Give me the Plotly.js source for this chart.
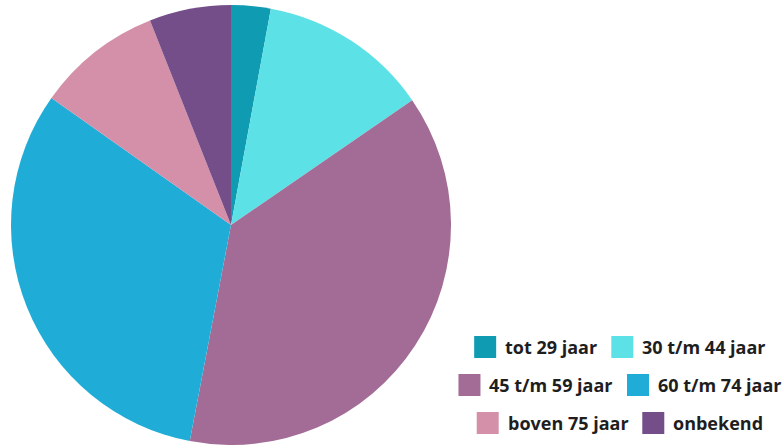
<!DOCTYPE html>
<html>
<head>
<meta charset="utf-8">
<script src="https://cdn.plot.ly/plotly-3.0.1.min.js"></script>
<style>html,body{margin:0;padding:0;background:#fff;}#chart{width:783px;height:445px;}</style>
</head>
<body>
<div id="chart"></div>
<script>
const categories = ["tot 29 jaar", "30 t/m 44 jaar", "45 t/m 59 jaar", "60 t/m 74 jaar", "boven 75 jaar", "onbekend"];
const values = [2.9, 12.5, 37.6, 31.8, 9.2, 6.0];
const colors = ["#0f9bb2", "#5ce1e6", "#a36c96", "#1fadd8", "#d48fa9", "#734e89"];

const W = 783, H = 445;
const FONT = "Open Sans";
const FSIZE = 18;
const FWEIGHT = 700;

const trace = {
  type: "pie",
  labels: categories,
  values: values,
  marker: {colors: colors, line: {width: 0}},
  sort: false,
  direction: "clockwise",
  rotation: 0,
  textinfo: "none",
  hoverinfo: "label+percent",
  showlegend: false,
  domain: {x: [11 / W, 451 / W], y: [1 - 445 / H, 1 - 5 / H]}
};

// custom legend: two entries per row, rows centred
const ctx = document.createElement("canvas").getContext("2d");
ctx.font = FWEIGHT + " " + FSIZE + "px '" + FONT + "'";
const sw = 22, gapT = 7, gapE = 16;
const rowY = [347, 385, 423];
const centerX = 619;
const shapes = [], annotations = [];
for (let r = 0; r < 3; r++) {
  const idx = [2 * r, 2 * r + 1];
  const widths = idx.map(i => ctx.measureText(categories[i]).width);
  const total = sw + gapT + widths[0] + gapE + sw + gapT + widths[1];
  let x = centerX - total / 2;
  idx.forEach((i, k) => {
    const y = rowY[r];
    shapes.push({type: "rect", xref: "paper", yref: "paper",
      x0: x / W, x1: (x + sw) / W, y0: 1 - (y + sw / 2) / H, y1: 1 - (y - sw / 2) / H,
      fillcolor: colors[i], line: {width: 0}});
    annotations.push({xref: "paper", yref: "paper", x: (x + sw + gapT) / W, y: 1 - y / H,
      xanchor: "left", yanchor: "middle", showarrow: false, text: categories[i],
      font: {family: FONT, size: FSIZE, weight: FWEIGHT, color: "#1e1e1e"}});
    x += sw + gapT + widths[k] + gapE;
  });
}

const layout = {
  width: W, height: H,
  margin: {l: 0, r: 0, t: 0, b: 0},
  paper_bgcolor: "#fff",
  showlegend: false,
  shapes: shapes,
  annotations: annotations
};
Plotly.newPlot("chart", [trace], layout, {displayModeBar: false, staticPlot: true});
</script>
</body>
</html>
